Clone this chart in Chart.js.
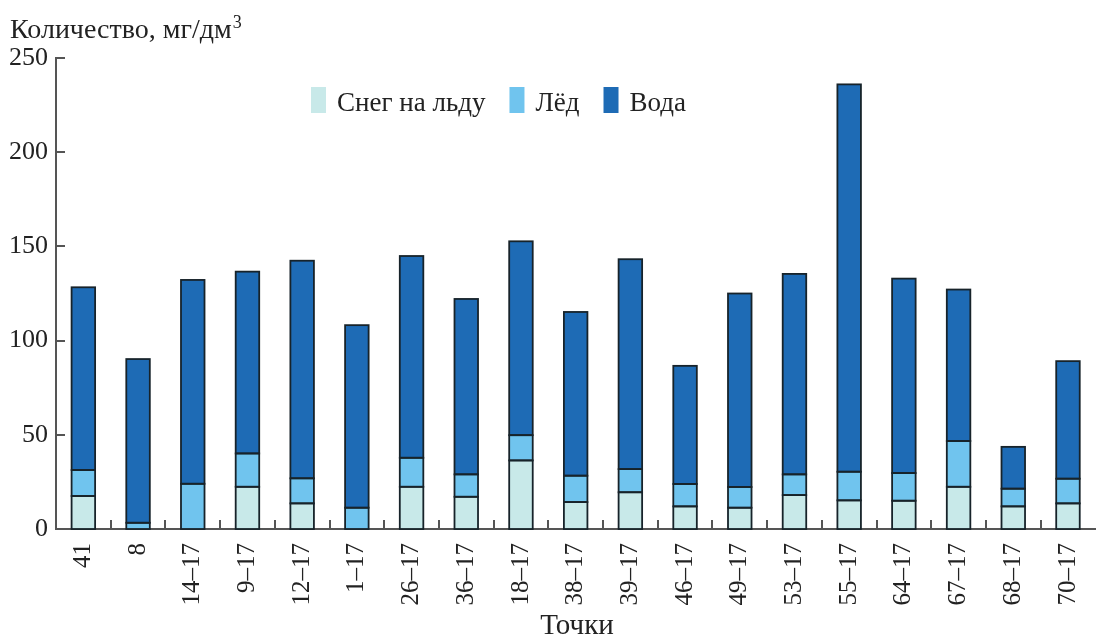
<!DOCTYPE html>
<html>
<head>
<meta charset="utf-8">
<script src="https://cdn.jsdelivr.net/npm/chart.js@4"></script>
<style>
  html, body { margin: 0; padding: 0; background: #fff; overflow: hidden; }
  #wrap { width: 1104px; height: 635px; }
</style>
</head>
<body>
<div id="wrap"><canvas id="chart" width="1104" height="635"></canvas></div>
<script>
// данные
const points = ["41", "8", "14–17", "9–17", "12–17", "1–17", "26–17", "36–17", "18–17", "38–17",
  "39–17", "46–17", "49–17", "53–17", "55–17", "64–17", "67–17", "68–17", "70–17"];
const snowOnIce = [17.5, 0, 0, 22.4, 13.6, 0, 22.4, 17.1, 36.4, 14.3, 19.5, 12, 11.3, 18, 15.2, 15, 22.4, 12, 13.6];
const ice = [13.8, 3.3, 24, 17.7, 13.3, 11.3, 15.4, 11.9, 13.4, 14, 12.3, 11.9, 11, 11, 15.2, 14.7, 24.3, 9.4, 13.1];
const water = [97, 86.9, 108.2, 96.5, 115.5, 96.9, 107.1, 93.1, 102.9, 86.9, 111.4, 62.7, 102.7, 106.4, 205.6, 103.2, 80.4, 22.2, 62.4];
const yTicks = [0, 50, 100, 150, 200, 250];

const seriesNames = ["Снег на льду", "Лёд", "Вода"];
const seriesColors = ["#c8e9e9", "#70c4ee", "#1e6bb5"];

const FONT = '"Liberation Serif", "Times New Roman", serif';
const AXIS = "#555555";
const TEXT = "#222222";

// контуры столбиков по позициям, которые посчитал Chart.js
const outlines = {
  id: "outlines",
  afterDatasetsDraw(chart) {
    const ctx = chart.ctx;
    ctx.save();
    ctx.strokeStyle = "#17232a";
    ctx.lineWidth = 1.8;
    chart.data.datasets.forEach((ds, di) => {
      chart.getDatasetMeta(di).data.forEach((bar, i) => {
        if (!ds.data[i]) return;
        const p = bar.getProps(["x", "y", "base", "width"], true);
        const left = p.x - p.width / 2;
        const top = Math.min(p.y, p.base);
        const h = Math.abs(p.base - p.y);
        ctx.strokeRect(left, top, p.width, h);
      });
    });
    ctx.restore();
  }
};

// оси, засечки, подписи и легенда
const decor = {
  id: "decor",
  afterDraw(chart) {
    const ctx = chart.ctx;
    const x = chart.scales.x;
    const y = chart.scales.y;
    const area = chart.chartArea;
    ctx.save();
    ctx.strokeStyle = AXIS;
    ctx.lineWidth = 2;
    // засечки между точками
    for (let i = 1; i < points.length; i++) {
      const px = Math.round((x.getPixelForValue(i - 1) + x.getPixelForValue(i)) / 2);
      ctx.beginPath();
      ctx.moveTo(px, area.bottom);
      ctx.lineTo(px, area.bottom - 9);
      ctx.stroke();
    }
    // засечки по Y
    yTicks.forEach(v => {
      if (v === 0) return;
      const py = Math.round(y.getPixelForValue(v));
      ctx.beginPath();
      ctx.moveTo(area.left, py);
      ctx.lineTo(area.left + 9, py);
      ctx.stroke();
    });

    // подписи осей
    ctx.fillStyle = TEXT;
    ctx.textBaseline = "alphabetic";
    ctx.textAlign = "left";
    ctx.font = "28px " + FONT;
    const t = "Количество, мг/дм";
    ctx.fillText(t, 10, 38);
    const w = ctx.measureText(t).width;
    ctx.font = "18px " + FONT;
    ctx.fillText("3", 10 + w + 1, 28);

    ctx.font = "29px " + FONT;
    ctx.textAlign = "center";
    ctx.fillText("Точки", 577, 634);

    // легенда
    ctx.textAlign = "left";
    ctx.font = "27px " + FONT;
    let lx = 311;
    seriesNames.forEach((name, i) => {
      ctx.fillStyle = seriesColors[i];
      ctx.fillRect(lx, 87, 15, 26);
      ctx.fillStyle = TEXT;
      ctx.fillText(name, lx + 26, 111);
      lx += 26 + ctx.measureText(name).width + 24;
    });
    ctx.restore();
  }
};

const datasets = [snowOnIce, ice, water].map((d, i) => ({
  label: seriesNames[i],
  data: d,
  backgroundColor: seriesColors[i],
  borderWidth: 0,
  categoryPercentage: 0.43,
  barPercentage: 1
}));

new Chart(document.getElementById("chart"), {
  type: "bar",
  data: { labels: points, datasets },
  options: {
    responsive: false,
    animation: false,
    layout: { padding: { top: 58, left: 0, right: 1, bottom: 0 } },
    plugins: {
      legend: { display: false },
      tooltip: { enabled: false }
    },
    scales: {
      x: {
        stacked: true,
        grid: { display: false },
        border: { color: AXIS, width: 2 },
        ticks: {
          color: TEXT,
          font: { family: FONT, size: 25 },
          autoSkip: false,
          minRotation: 90,
          maxRotation: 90,
          padding: 6
        },
        afterFit(s) { s.height = 106; }
      },
      y: {
        stacked: true,
        min: 0,
        max: 250,
        afterBuildTicks(s) { s.ticks = yTicks.map(v => ({ value: v })); },
        grid: { display: false },
        border: { color: AXIS, width: 2 },
        ticks: {
          color: TEXT,
          font: { family: FONT, size: 26 },
          padding: 0
        },
        afterFit(s) { s.width = 56; }
      }
    }
  },
  plugins: [outlines, decor]
});
</script>
</body>
</html>
